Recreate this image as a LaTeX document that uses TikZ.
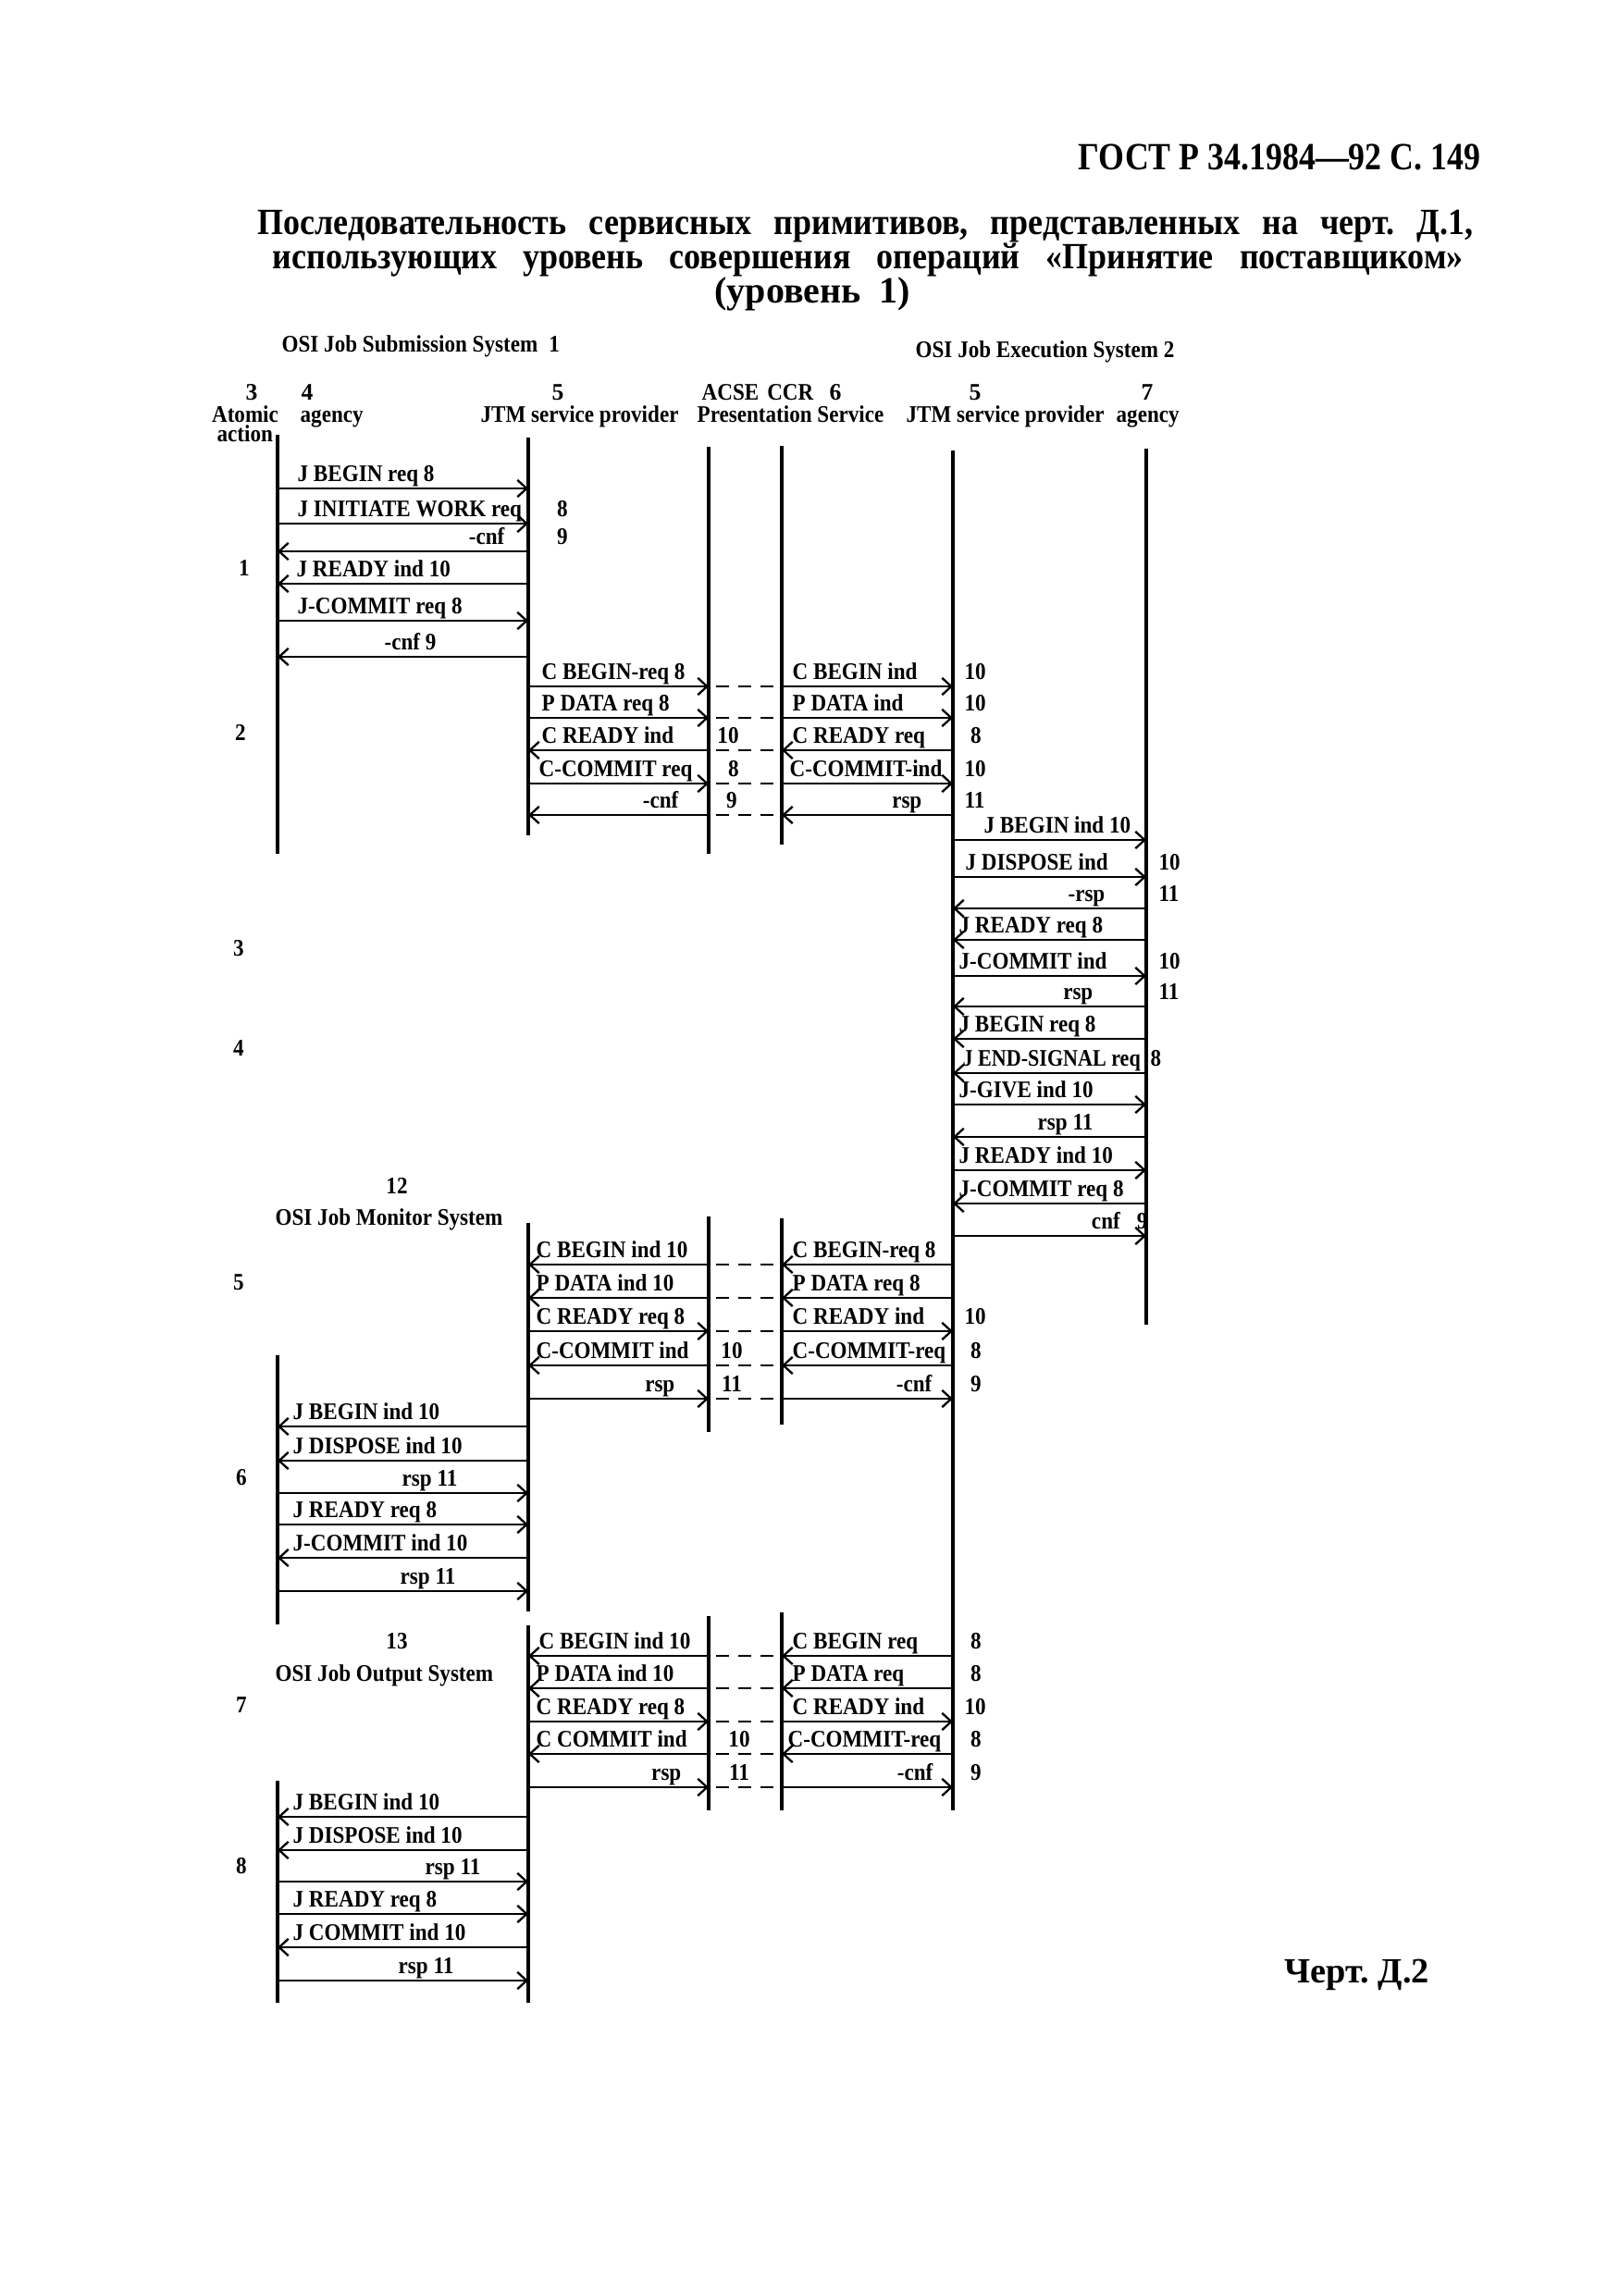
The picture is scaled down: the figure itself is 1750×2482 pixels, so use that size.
\documentclass[tikz,border=0pt]{standalone}
\usepackage{fontspec}
\setmainfont{Liberation Serif}
\usepackage{graphicx}
\usetikzlibrary{arrows.meta}
\frenchspacing
\newcommand\cx[1]{\scalebox{0.9}[1]{#1}}
\tikzset{
  life/.style={line width=1pt},
  msg/.style={line width=0.8pt,-{Straight Barb[length=3pt,width=5.5pt,line width=0.7pt]}},
  dsh/.style={line width=0.8pt,dash pattern=on 4.2pt off 3pt},
  lbl/.style={font=\fontsize{7.7}{9}\selectfont\bfseries,inner sep=0pt},
  ttl/.style={anchor=base west,inner sep=0pt,font=\fontsize{12}{14}\selectfont\bfseries},
}
\newcommand\am[3]{\draw[msg] (#1 |- 0,#3) -- (#2 |- 0,#3);}
\newcommand\dm[1]{\draw[dsh] (PL |- 0,#1) ++(8,0) -- ++(64,0);}
\newcommand\labW[4]{\node[lbl,anchor=base west] (#1) at (#2,#3-8) {\cx{#4}};}
\newcommand\labE[4]{\node[lbl,anchor=base east] (#1) at (#2,#3-8) {\cx{#4}};}
\newcommand\labC[4]{\node[lbl,anchor=base] (#1) at (#2,#3-8) {\cx{#4}};}
\newcommand\atom[4]{\node[lbl,anchor=center] (#1) at (#2,#3) {\cx{#4}};}
\begin{document}
\begin{tikzpicture}[x=0.3pt,y=-0.3pt]
\fill[white] (0,0) rectangle (1750,2482);
\useasboundingbox (0,0) rectangle (1750,2482);
% lifeline positions
\coordinate (AG1) at (300,0);
\coordinate (JT1) at (571,0);
\coordinate (PL) at (766,0);
\coordinate (PR) at (845,0);
\coordinate (JT2) at (1030,0);
\coordinate (AG2) at (1239,0);

% title
\node[anchor=base east,inner sep=0pt,font=\fontsize{12.5}{14}\selectfont\bfseries] (hdr) at (1601,183) {\scalebox{0.86}[1]{ГОСТ Р 34.1984—92 С. 149}};
\node[ttl] (ttl1) at (278,253) {\scalebox{0.9}[1]{\makebox[438pt][s]{Последовательность сервисных примитивов, представленных на черт. Д.1,}}};
\node[ttl] (ttl2) at (294,290) {\scalebox{0.9}[1]{\makebox[429pt][s]{использующих уровень совершения операций «Принятие поставщиком»}}};
\node[ttl] (ttl3) at (772,327) {(уровень\hspace{6pt}1)};

% column headers
\node[lbl,anchor=base west] (sys1) at (304,380) {\cx{OSI Job Submission System\hspace{4pt}1}};
\node[lbl,anchor=base west] (sys2) at (989,386) {\cx{OSI Job Execution System 2}};
\node[lbl,anchor=base] (h3) at (272,432) {3};
\node[lbl,anchor=base] (h4) at (332,432) {4};
\node[lbl,anchor=base] (h5a) at (603,432) {5};
\node[lbl,anchor=base west] (hacse) at (758,432) {\cx{ACSE\hspace{3pt}CCR}};
\node[lbl,anchor=base] (h6) at (903,432) {6};
\node[lbl,anchor=base] (h5b) at (1054,432) {5};
\node[lbl,anchor=base] (h7) at (1240,432) {7};
\node[lbl,anchor=base] (hatom) at (265,456) {\cx{Atomic}};
\node[lbl,anchor=base west] (hag1) at (324,456) {\cx{agency}};
\node[lbl,anchor=base west] (hjtm1) at (519,456) {\cx{JTM service provider}};
\node[lbl,anchor=base west] (hpres) at (753,456) {\cx{Presentation Service}};
\node[lbl,anchor=base west] (hjtm2) at (979,456) {\cx{JTM service provider}};
\node[lbl,anchor=base west] (hag2) at (1206,456) {\cx{agency}};
\node[lbl,anchor=base west] (hact) at (234,477) {\cx{action}};

% lifelines
\draw[life] (AG1 |- 0,470) -- (AG1 |- 0,923);
\draw[life] (JT1 |- 0,473) -- (JT1 |- 0,903);
\draw[life] (PL |- 0,483) -- (PL |- 0,923);
\draw[life] (PR |- 0,482) -- (PR |- 0,913);
\draw[life] (JT2 |- 0,487) -- (JT2 |- 0,1957);
\draw[life] (AG2 |- 0,485) -- (AG2 |- 0,1432);
\draw[life] (JT1 |- 0,1322) -- (JT1 |- 0,1742);
\draw[life] (PL |- 0,1315) -- (PL |- 0,1548);
\draw[life] (PR |- 0,1317) -- (PR |- 0,1540);
\draw[life] (AG1 |- 0,1465) -- (AG1 |- 0,1756);
\draw[life] (JT1 |- 0,1757) -- (JT1 |- 0,2165);
\draw[life] (PL |- 0,1747) -- (PL |- 0,1957);
\draw[life] (PR |- 0,1743) -- (PR |- 0,1957);
\draw[life] (AG1 |- 0,1925) -- (AG1 |- 0,2165);

% ---- section 1
\am{AG1}{JT1}{528}
\am{AG1}{JT1}{566}
\am{JT1}{AG1}{596}
\am{JT1}{AG1}{631}
\am{AG1}{JT1}{671}
\am{JT1}{AG1}{710}
\labW{s1a}{321}{528}{J BEGIN req 8}
\labW{s1b}{321}{566}{J INITIATE WORK req}
\labC{s1bn}{608}{566}{8}
\labE{s1c}{546}{596}{-cnf}
\labC{s1cn}{608}{596}{9}
\labW{s1d}{320}{631}{J READY ind 10}
\labW{s1e}{321}{671}{J-COMMIT req 8}
\labW{s1f}{415}{710}{-cnf 9}
\atom{at1}{264}{614}{1}

% ---- section 2
\am{JT1}{PL}{742} \dm{742} \am{PR}{JT2}{742}
\am{JT1}{PL}{776} \dm{776} \am{PR}{JT2}{776}
\am{PL}{JT1}{811} \dm{811} \am{JT2}{PR}{811}
\am{JT1}{PL}{847} \dm{847} \am{PR}{JT2}{847}
\am{PL}{JT1}{881} \dm{881} \am{JT2}{PR}{881}
\labW{s2a}{585}{742}{C BEGIN-req 8}
\labW{s2b}{856}{742}{C BEGIN ind}
\labW{s2bn}{1042}{742}{10}
\labW{s2c}{585}{776}{P DATA req 8}
\labW{s2d}{856}{776}{P DATA ind}
\labW{s2dn}{1042}{776}{10}
\labW{s2e}{585}{811}{C READY ind}
\labC{s2en}{787}{811}{10}
\labW{s2f}{856}{811}{C READY req}
\labC{s2fn}{1055}{811}{8}
\labW{s2g}{582}{847}{C-COMMIT req}
\labC{s2gn}{793}{847}{8}
\labW{s2h}{853}{847}{C-COMMIT-ind}
\labW{s2hn}{1042}{847}{10}
\labE{s2i}{734}{881}{-cnf}
\labC{s2in}{791}{881}{9}
\labE{s2j}{997}{881}{rsp}
\labW{s2jn}{1042}{881}{11}
\atom{at2}{260}{792}{2}

% ---- sections 3 and 4
\am{JT2}{AG2}{908}
\am{JT2}{AG2}{948}
\am{AG2}{JT2}{982}
\am{AG2}{JT2}{1016}
\am{JT2}{AG2}{1055}
\am{AG2}{JT2}{1088}
\am{AG2}{JT2}{1123}
\am{AG2}{JT2}{1160}
\am{JT2}{AG2}{1194}
\am{AG2}{JT2}{1229}
\am{JT2}{AG2}{1265}
\am{AG2}{JT2}{1301}
\am{JT2}{AG2}{1336}
\labW{s3a}{1063}{908}{J BEGIN ind 10}
\labW{s3b}{1043}{948}{J DISPOSE ind}
\labW{s3bn}{1252}{948}{10}
\labE{s3c}{1195}{982}{-rsp}
\labW{s3cn}{1252}{982}{11}
\labW{s3d}{1036}{1016}{J READY req 8}
\labW{s3e}{1036}{1055}{J-COMMIT ind}
\labW{s3en}{1252}{1055}{10}
\labE{s3f}{1182}{1088}{rsp}
\labW{s3fn}{1252}{1088}{11}
\labW{s4a}{1036}{1123}{J BEGIN req 8}
\node[lbl,anchor=base west] (s4b) at (1040,1152) {\scalebox{0.86}[1]{J END-SIGNAL req}};
\labW{s4bn}{1243}{1160}{8}
\labW{s4c}{1036}{1194}{J-GIVE ind 10}
\labE{s4d}{1182}{1229}{rsp 11}
\labW{s4e}{1036}{1265}{J READY ind 10}
\labW{s4f}{1036}{1301}{J-COMMIT req 8}
\labE{s4g}{1241}{1336}{cnf\hspace{6pt}9}
\atom{at3}{258}{1025}{3}
\atom{at4}{258}{1133}{4}

% ---- section 5 (monitor)
\atom{n12}{429}{1282}{12}
\node[lbl,anchor=base west] (mon) at (297,1324) {\cx{OSI Job Monitor System}};
\am{PL}{JT1}{1367} \dm{1367} \am{JT2}{PR}{1367}
\am{PL}{JT1}{1403} \dm{1403} \am{JT2}{PR}{1403}
\am{JT1}{PL}{1439} \dm{1439} \am{PR}{JT2}{1439}
\am{PL}{JT1}{1476} \dm{1476} \am{JT2}{PR}{1476}
\am{JT1}{PL}{1512} \dm{1512} \am{PR}{JT2}{1512}
\labW{s5a}{579}{1367}{C BEGIN ind 10}
\labW{s5b}{856}{1367}{C BEGIN-req 8}
\labW{s5c}{579}{1403}{P DATA ind 10}
\labW{s5d}{856}{1403}{P DATA req 8}
\labW{s5e}{579}{1439}{C READY req 8}
\labW{s5f}{856}{1439}{C READY ind}
\labW{s5fn}{1042}{1439}{10}
\labW{s5g}{579}{1476}{C-COMMIT ind}
\labC{s5gn}{791}{1476}{10}
\labW{s5h}{856}{1476}{C-COMMIT-req}
\labC{s5hn}{1055}{1476}{8}
\labE{s5i}{730}{1512}{rsp}
\labC{s5in}{791}{1512}{11}
\labE{s5j}{1008}{1512}{-cnf}
\labC{s5jn}{1055}{1512}{9}
\atom{at5}{258}{1386}{5}

% ---- section 6
\am{JT1}{AG1}{1542}
\am{JT1}{AG1}{1579}
\am{AG1}{JT1}{1614}
\am{AG1}{JT1}{1648}
\am{JT1}{AG1}{1684}
\am{AG1}{JT1}{1720}
\labW{s6a}{316}{1542}{J BEGIN ind 10}
\labW{s6b}{316}{1579}{J DISPOSE ind 10}
\labW{s6c}{434}{1614}{rsp 11}
\labW{s6d}{316}{1648}{J READY req 8}
\labW{s6e}{316}{1684}{J-COMMIT ind 10}
\labW{s6f}{432}{1720}{rsp 11}
\atom{at6}{261}{1597}{6}

% ---- section 7 (output)
\atom{n13}{429}{1774}{13}
\node[lbl,anchor=base west] (outs) at (297,1817) {\cx{OSI Job Output System}};
\am{PL}{JT1}{1790} \dm{1790} \am{JT2}{PR}{1790}
\am{PL}{JT1}{1825} \dm{1825} \am{JT2}{PR}{1825}
\am{JT1}{PL}{1861} \dm{1861} \am{PR}{JT2}{1861}
\am{PL}{JT1}{1896} \dm{1896} \am{JT2}{PR}{1896}
\am{JT1}{PL}{1932} \dm{1932} \am{PR}{JT2}{1932}
\labW{s7a}{582}{1790}{C BEGIN ind 10}
\labW{s7b}{856}{1790}{C BEGIN req}
\labC{s7bn}{1055}{1790}{8}
\labW{s7c}{579}{1825}{P DATA ind 10}
\labW{s7d}{856}{1825}{P DATA req}
\labC{s7dn}{1055}{1825}{8}
\labW{s7e}{579}{1861}{C READY req 8}
\labW{s7f}{856}{1861}{C READY ind}
\labW{s7fn}{1042}{1861}{10}
\labW{s7g}{579}{1896}{C COMMIT ind}
\labC{s7gn}{799}{1896}{10}
\labW{s7h}{851}{1896}{C-COMMIT-req}
\labC{s7hn}{1055}{1896}{8}
\labE{s7i}{737}{1932}{rsp}
\labC{s7in}{799}{1932}{11}
\labE{s7j}{1009}{1932}{-cnf}
\labC{s7jn}{1055}{1932}{9}
\atom{at7}{261}{1843}{7}

% ---- section 8
\am{JT1}{AG1}{1964}
\am{JT1}{AG1}{2000}
\am{AG1}{JT1}{2034}
\am{AG1}{JT1}{2069}
\am{JT1}{AG1}{2105}
\am{AG1}{JT1}{2141}
\labW{s8a}{316}{1964}{J BEGIN ind 10}
\labW{s8b}{316}{2000}{J DISPOSE ind 10}
\labW{s8c}{459}{2034}{rsp 11}
\labW{s8d}{316}{2069}{J READY req 8}
\labW{s8e}{316}{2105}{J COMMIT ind 10}
\labW{s8f}{430}{2141}{rsp 11}
\atom{at8}{261}{2017}{8}

% caption
\node[anchor=base west,inner sep=0pt,font=\fontsize{11.5}{13}\selectfont\bfseries] (chert) at (1388,2143) {Черт. Д.2};
\end{tikzpicture}
\end{document}
